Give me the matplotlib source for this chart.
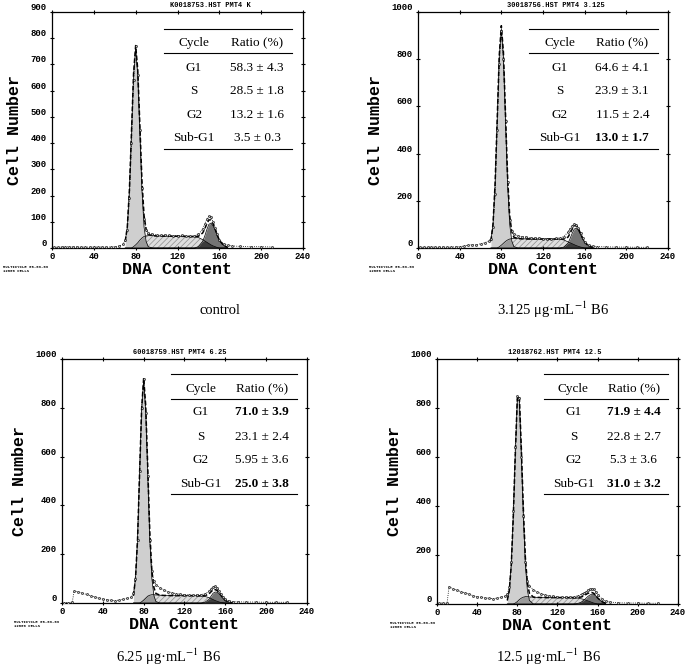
import matplotlib.pyplot as plt
import numpy as np

plt.rcParams.update({
    "hatch.color": "#8c8c8c",
    "hatch.linewidth": 0.5,
    "mathtext.fontset": "stix",
    "font.family": "Liberation Serif",
})

# raw histogram: DNA content channel and cell counts
dna_channels = [2, 6, 10, 12, 16, 20, 24, 28, 32, 36,
                40, 44, 48, 52, 56, 60, 64, 68, 70, 72,
                74, 76, 78, 80, 82, 84, 86, 88, 90, 92,
                96, 100, 104, 108, 112, 116, 120, 124, 128, 132,
                136, 140, 144, 146, 148, 150, 152, 154, 156, 158,
                160, 164, 168, 172, 180, 190, 200, 210, 220]
counts_control = [3, 3, 4, 4, 5, 4, 4, 3, 4, 3,
                  4, 3, 4, 3, 4, 5, 7, 14, 30, 70,
                  190, 400, 640, 770, 660, 450, 230, 110, 70, 58,
                  52, 50, 48, 50, 48, 46, 47, 48, 46, 45,
                  47, 52, 72, 92, 110, 122, 118, 100, 76, 52,
                  32, 16, 10, 8, 6, 5, 5, 4, np.nan]
counts_3125 = [3, 3, 3, 4, 4, 3, 4, 3, 4, 5,
               6, 8, 12, 14, 12, 18, 22, 30, 40, 90,
               230, 500, 780, 920, 800, 540, 280, 120, 70, 60,
               52, 48, 46, 44, 42, 42, 40, 40, 40, 41,
               42, 48, 68, 82, 95, 102, 98, 86, 62, 42,
               25, 12, 8, 6, 5, 4, 4, 3, 3]
counts_625 = [2, 2, 3, 50, 46, 40, 35, 30, 25, 20,
              16, 13, 11, 10, 12, 15, 19, 24, 40, 100,
              260, 540, 800, 920, 780, 520, 260, 130, 90, 75,
              62, 52, 46, 42, 38, 36, 34, 33, 32, 33,
              34, 38, 48, 58, 66, 70, 62, 50, 36, 24,
              15, 8, 6, 5, 4, 4, 3, 3, 3]
counts_125 = [3, 4, 3, 70, 62, 56, 50, 46, 40, 34,
              30, 27, 25, 23, 22, 24, 28, 32, 40, 70,
              170, 380, 640, 850, 840, 600, 360, 170, 95, 75,
              58, 48, 42, 37, 34, 31, 29, 28, 28, 28,
              30, 33, 40, 44, 50, 56, 60, 63, 60, 50,
              38, 22, 12, 8, 5, 4, 4, 3, 3]

# model fit components on their own channel grid
fit_channels = [70, 72, 74, 76, 78, 80, 82, 84, 86, 88, 90, 92, 96, 100, 110,
                120, 130, 136, 140, 144, 146, 148, 150, 152, 154, 156, 158, 160, 164, 168]
g1_control = [25, 80, 220, 440, 660, 760, 660, 440, 220, 80, 25, 5, 0, 0, 0,
              0, 0, 0, 0, 0, 0, 0, 0, 0, 0, 0, 0, 0, 0, 0]
s_control = [0, 0, 0, 0, 5, 12, 20, 30, 38, 44, 46, 47, 47, 46, 45,
             45, 44, 43, 40, 32, 27, 22, 17, 12, 8, 5, 2, 0, 0, 0]
g2_control = [0, 0, 0, 0, 0, 0, 0, 0, 0, 0, 0, 0, 0, 0, 0,
              0, 0, 0, 5, 25, 45, 70, 90, 95, 85, 68, 48, 30, 10, 2]
g1_3125 = [30, 100, 270, 540, 810, 930, 810, 540, 270, 100, 30, 6, 0, 0, 0,
           0, 0, 0, 0, 0, 0, 0, 0, 0, 0, 0, 0, 0, 0, 0]
s_3125 = [0, 0, 0, 0, 5, 12, 20, 28, 34, 38, 40, 40, 40, 39, 38,
          38, 38, 37, 34, 26, 22, 18, 14, 10, 7, 4, 2, 0, 0, 0]
g2_3125 = [0, 0, 0, 0, 0, 0, 0, 0, 0, 0, 0, 0, 0, 0, 0,
           0, 0, 0, 4, 20, 40, 62, 80, 85, 75, 58, 40, 24, 8, 2]
g1_625 = [30, 100, 260, 530, 790, 910, 790, 530, 260, 100, 30, 6, 0, 0, 0,
          0, 0, 0, 0, 0, 0, 0, 0, 0, 0, 0, 0, 0, 0, 0]
s_625 = [0, 0, 0, 0, 5, 12, 20, 28, 32, 34, 34, 33, 32, 31, 30,
         30, 30, 29, 27, 22, 18, 14, 10, 7, 4, 2, 1, 0, 0, 0]
g2_625 = [0, 0, 0, 0, 0, 0, 0, 0, 0, 0, 0, 0, 0, 0, 0,
          0, 0, 0, 3, 15, 28, 40, 45, 44, 38, 28, 18, 10, 3, 0]
g1_125 = [15, 55, 160, 360, 610, 830, 830, 610, 360, 160, 55, 15, 0, 0, 0,
          0, 0, 0, 0, 0, 0, 0, 0, 0, 0, 0, 0, 0, 0, 0]
s_125 = [0, 0, 0, 0, 4, 10, 18, 24, 28, 30, 30, 29, 28, 27, 26,
         26, 26, 25, 24, 21, 19, 16, 13, 10, 7, 4, 2, 0, 0, 0]
g2_125 = [0, 0, 0, 0, 0, 0, 0, 0, 0, 0, 0, 0, 0, 0, 0,
          0, 0, 0, 2, 8, 14, 22, 30, 36, 40, 40, 34, 25, 10, 3]

# table contents
phases = ["G1", "S", "G2", "Sub-G1"]
ratios_control = ["58.3 ± 4.3", "28.5 ± 1.8", "13.2 ± 1.6", "3.5 ± 0.3"]
ratios_3125 = ["64.6 ± 4.1", "23.9 ± 3.1", "11.5 ± 2.4", "13.0 ± 1.7"]
ratios_625 = ["71.0 ± 3.9", "23.1 ± 2.4", "5.95 ± 3.6", "25.0 ± 3.8"]
ratios_125 = ["71.9 ± 4.4", "22.8 ± 2.7", "5.3 ± 3.6", "31.0 ± 3.2"]
bold_rows = [[], [3], [0, 3], [0, 3]]

file_titles = ["K0018753.HST PMT4 K", "30018756.HST PMT4 3.125",
               "60018759.HST PMT4 6.25", "12018762.HST PMT4 12.5"]
captions = ["control", r"3.125 μg·mL$^{-1}$ B6",
            r"6.25 μg·mL$^{-1}$ B6", r"12.5 μg·mL$^{-1}$ B6"]
y_max = [900, 1000, 1000, 1000]
y_step = [100, 200, 200, 200]

panels = [
    (counts_control, g1_control, s_control, g2_control, ratios_control),
    (counts_3125, g1_3125, s_3125, g2_3125, ratios_3125),
    (counts_625, g1_625, s_625, g2_625, ratios_625),
    (counts_125, g1_125, s_125, g2_125, ratios_125),
]

W, H = 691, 667
fig = plt.figure(figsize=(W / 100, H / 100), dpi=100)

# axes boxes in pixels: left, top, right, bottom
boxes = [(52, 12, 303, 248), (418, 12, 668, 248),
         (62, 359, 307, 603), (437, 359, 678, 604)]
title_x = [0.63, 0.55, 0.48, 0.49]
caption_pos = [(220, 310), (553, 310), (168, 657), (548, 657)]
table_rows = [
    dict(top=0.93, head=0.826, bottom=0.42, hy=0.869, rows=[0.763, 0.665, 0.564, 0.466]),
    dict(top=0.939, head=0.836, bottom=0.447, hy=0.877, rows=[0.783, 0.680, 0.586, 0.488]),
]

mono = "Liberation Mono"
fx = np.array(fit_channels)

for i, (counts, g1, s, g2, ratios) in enumerate(panels):
    l, t, r, b = boxes[i]
    ax = fig.add_axes([l / W, 1 - b / H, (r - l) / W, (b - t) / H])
    g1, s, g2 = np.array(g1), np.array(s), np.array(g2)

    # fitted components
    ax.fill_between(fx, 0, g1, color="#cfcfcf", lw=0, zorder=1)
    ax.fill_between(fx, 0, s, facecolor="#dedede", hatch="//////", edgecolor="#8c8c8c",
                    lw=0, zorder=1)
    ax.fill_between(fx, 0, np.minimum(g1, s), color="#9a9a9a", lw=0, zorder=2)
    ax.fill_between(fx, 0, g2, color="#747474", lw=0, zorder=2)
    ax.fill_between(fx, 0, np.minimum(s, g2), color="#3c3c3c", lw=0, zorder=3)
    for comp in (g1, s, g2):
        ax.plot(fx, comp, color="black", lw=0.5, zorder=4)
    ax.plot(fx, g1 + s + g2, color="black", lw=1.1, ls=(0, (3, 1.5)), zorder=5)

    # raw data points
    ax.plot(dna_channels, counts, color="black", lw=0.6, ls=":", marker="o",
            ms=1.5, mfc="#bbbbbb", mec="black", mew=0.4, zorder=6)

    ax.set_xlim(0, 240)
    ax.set_ylim(0, y_max[i])
    ax.set_xticks(range(0, 241, 40))
    ax.set_yticks(range(0, y_max[i] + 1, y_step[i]))
    ax.tick_params(top=True, right=True, direction="inout", length=3.5, width=0.8,
                   labelsize=6.5, pad=1)
    ax.tick_params(axis="y", pad=2)
    for lab in ax.get_xticklabels() + ax.get_yticklabels():
        lab.set_fontfamily(mono)
        lab.set_fontweight("bold")
    for lab in ax.get_yticklabels():
        lab.set_va("bottom")
    for sp in ax.spines.values():
        sp.set_linewidth(0.9)

    ax.set_xlabel("DNA Content", fontfamily=mono, fontweight="bold", fontsize=12, labelpad=1)
    ax.set_ylabel("Cell Number", fontfamily=mono, fontweight="bold", fontsize=12, labelpad=6)

    ax.text(title_x[i], 1.012, file_titles[i], transform=ax.transAxes, ha="center",
            va="bottom", fontfamily=mono, fontweight="bold", fontsize=5)
    ax.text(-0.195, -0.07, "MULTICYCLE 06-09-09\n12000 CELLS", transform=ax.transAxes,
            ha="left", va="top", fontfamily=mono, fontweight="bold", fontsize=2.8,
            linespacing=1.1)

    # result table
    tp = table_rows[i // 2]
    x0, x1 = 0.445, 0.958
    for yy in (tp["top"], tp["head"], tp["bottom"]):
        ax.plot([x0, x1], [yy, yy], transform=ax.transAxes, color="black", lw=0.8,
                zorder=7)
    cx1, cx2 = 0.566, 0.817
    ax.text(cx1, tp["hy"], "Cycle", transform=ax.transAxes, ha="center", va="center",
            fontsize=9.5)
    ax.text(cx2, tp["hy"], "Ratio (%)", transform=ax.transAxes, ha="center", va="center",
            fontsize=9.5)
    for k, (ph, val) in enumerate(zip(phases, ratios)):
        ax.text(cx1, tp["rows"][k], ph, transform=ax.transAxes, ha="center", va="center",
                fontsize=9.5)
        ax.text(cx2, tp["rows"][k], val, transform=ax.transAxes, ha="center", va="center",
                fontsize=9.5, fontweight="bold" if k in bold_rows[i] else "normal")

    px, py = caption_pos[i]
    fig.text(px / W, 1 - py / H, captions[i], ha="center", va="center", fontsize=10.5)

fig.savefig("out.png", dpi=100)
